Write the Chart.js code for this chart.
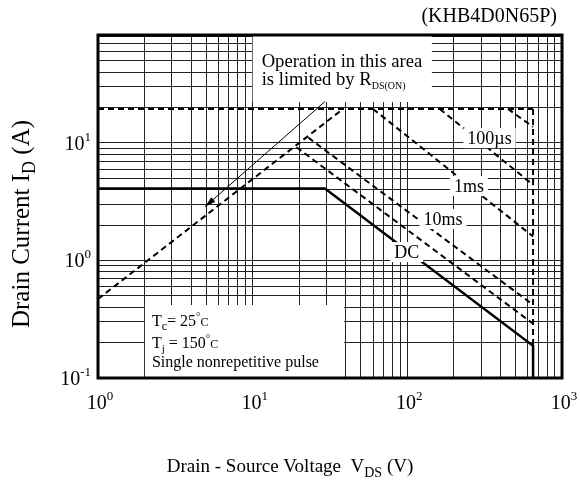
<!DOCTYPE html>
<html>
<head>
<meta charset="utf-8">
<script src="https://cdn.jsdelivr.net/npm/chart.js@4.4.0/dist/chart.umd.min.js"></script>
<style>
html, body { margin: 0; padding: 0; background: #fff; }
</style>
</head>
<body>
<canvas id="chart" width="580" height="481"></canvas>
<script>
const SERIF = '"Liberation Serif", "Times New Roman", serif';

// grid / tick values
const xGrid = [1, 2, 3, 4, 5, 6, 7, 8, 9, 10, 20, 30, 40, 50, 60, 70, 80, 90, 100, 200, 300, 400, 500, 600, 700, 800, 900, 1000];
const yGrid = [0.1, 0.2, 0.3, 0.4, 0.5, 0.6, 0.7, 0.8, 0.9, 1, 2, 3, 4, 5, 6, 7, 8, 9, 10, 20, 30, 40, 50, 60, 70, 80];
const xDecades = [1, 10, 100, 1000];
const xExponents = ['0', '1', '2', '3'];
const yDecades = [0.1, 1, 10];
const yExponents = ['-1', '0', '1'];

// curves: drain-source voltage (V) / drain current (A)
const rdsLimitV = [1, 38.4];
const rdsLimitI = [0.47, 19.5];
const pulseMaxV = [1, 650];
const pulseMaxI = [19.5, 19.5];
const bvdssV = [650, 650];
const bvdssI = [19.5, 0.1];
const us10V = [447, 650];
const us10I = [19.5, 13.7];
const us100V = [162, 650];
const us100I = [19.5, 4.4];
const ms1V = [60, 650];
const ms1I = [19.5, 1.6];
const ms10V = [22.9, 650];
const ms10I = [11.1, 0.42];
const ms100V = [19.2, 650];
const ms100I = [9.2, 0.29];
const dcV = [1, 29.3, 650, 650];
const dcI = [4.1, 4.1, 0.188, 0.1];
const arrowV = [4.92, 29.3];
const arrowI = [2.87, 22.5];

// curve labels
const curveLabels = ['100µs', '1ms', '10ms', 'DC'];
const curveLabelV = [340, 250, 170, 99];
const curveLabelI = [11.0, 4.3, 2.25, 1.18];

// note boxes (V range, I range)
const noteBoxV = [10, 144];
const noteBoxI = [22.3, 83];
const condBoxV = [2.01, 38.9];
const condBoxI = [0.1, 0.418];

const pts = (vs, is) => vs.map((v, k) => ({ x: v, y: is[k] }));

const dashed = (vs, is) => ({
	data: pts(vs, is),
	borderColor: '#000',
	borderWidth: 2,
	borderDash: [6, 4],
	pointRadius: 0,
	fill: false,
	tension: 0
});

// draws a run of text pieces with different sizes / baseline shifts
const drawRich = (ctx, parts, x, y, align) => {
	let total = 0;
	parts.forEach(p => {
		ctx.font = `${p.size}px ${SERIF}`;
		p.w = ctx.measureText(p.t).width;
		total += p.w;
	});
	let cx = align === 'center' ? x - total / 2 : align === 'right' ? x - total : x;
	ctx.textAlign = 'left';
	ctx.textBaseline = 'alphabetic';
	parts.forEach(p => {
		ctx.font = `${p.size}px ${SERIF}`;
		ctx.fillText(p.t, cx, y + (p.dy || 0));
		cx += p.w;
	});
};

const powLabel = exp => [{ t: '10', size: 20 }, { t: exp, size: 13, dy: -9 }];

const decorations = {
	id: 'decorations',
	beforeDatasetsDraw(chart) {
		const { ctx, scales: { x, y } } = chart;
		ctx.save();
		ctx.fillStyle = '#fff';
		// RDS(on) note box
		let x0 = x.getPixelForValue(noteBoxV[0]), x1 = x.getPixelForValue(noteBoxV[1]);
		let y0 = y.getPixelForValue(noteBoxI[1]), y1 = y.getPixelForValue(noteBoxI[0]);
		ctx.fillRect(x0, y0, x1 - x0, y1 - y0);
		ctx.fillStyle = '#000';
		drawRich(ctx, [{ t: 'Operation in this area', size: 18.6 }], x0 + 9, y0 + 32, 'left');
		drawRich(ctx, [{ t: 'is limited by R', size: 18.6 }, { t: 'DS(ON)', size: 10, dy: 4 }], x0 + 9, y0 + 50, 'left');
		// conditions box
		ctx.fillStyle = '#fff';
		x0 = x.getPixelForValue(condBoxV[0]); x1 = x.getPixelForValue(condBoxV[1]);
		y0 = y.getPixelForValue(condBoxI[1]); y1 = y.getPixelForValue(condBoxI[0]);
		ctx.fillRect(x0, y0, x1 - x0, y1 - y0);
		ctx.fillStyle = '#000';
		drawRich(ctx, [{ t: 'T', size: 16 }, { t: 'c', size: 12, dy: 4 }, { t: '= 25', size: 16 }, { t: '°', size: 11, dy: -6 }, { t: 'C', size: 12 }], x0 + 7, y0 + 21, 'left');
		drawRich(ctx, [{ t: 'T', size: 16 }, { t: 'j', size: 11, dy: 4 }, { t: ' = 150', size: 16 }, { t: '°', size: 11, dy: -6 }, { t: 'C', size: 12 }], x0 + 7, y0 + 43, 'left');
		drawRich(ctx, [{ t: 'Single nonrepetitive pulse', size: 16 }], x0 + 7, y0 + 62, 'left');
		ctx.restore();
	},
	afterDatasetsDraw(chart) {
		const { ctx, scales: { x, y } } = chart;
		ctx.save();
		// arrow head at the lower end of the RDS(on) line
		const ax = x.getPixelForValue(arrowV[0]), ay = y.getPixelForValue(arrowI[0]);
		const bx = x.getPixelForValue(arrowV[1]), by = y.getPixelForValue(arrowI[1]);
		const ang = Math.atan2(ay - by, ax - bx);
		ctx.fillStyle = '#000';
		ctx.beginPath();
		ctx.moveTo(ax, ay);
		ctx.lineTo(ax - 11 * Math.cos(ang) + 3 * Math.sin(ang), ay - 11 * Math.sin(ang) - 3 * Math.cos(ang));
		ctx.lineTo(ax - 11 * Math.cos(ang) - 3 * Math.sin(ang), ay - 11 * Math.sin(ang) + 3 * Math.cos(ang));
		ctx.closePath();
		ctx.fill();
		// curve labels on white
		ctx.font = `18px ${SERIF}`;
		ctx.textAlign = 'center';
		ctx.textBaseline = 'middle';
		curveLabels.forEach((lbl, k) => {
			const px = x.getPixelForValue(curveLabelV[k]);
			const py = y.getPixelForValue(curveLabelI[k]);
			const w = ctx.measureText(lbl).width;
			ctx.fillStyle = '#fff';
			ctx.fillRect(px - w / 2 - 4, py - 10, w + 8, 20);
			ctx.fillStyle = '#000';
			ctx.fillText(lbl, px, py + 1);
		});
		ctx.restore();
	},
	afterDraw(chart) {
		const { ctx, chartArea: a, scales: { x, y } } = chart;
		ctx.save();
		ctx.strokeStyle = '#000';
		ctx.lineWidth = 3;
		ctx.strokeRect(a.left, a.top, a.right - a.left, a.bottom - a.top);
		ctx.fillStyle = '#000';
		yDecades.forEach((v, k) => {
			drawRich(ctx, powLabel(yExponents[k]), a.left - 7, y.getPixelForValue(v) + 7, 'right');
		});
		xDecades.forEach((v, k) => {
			drawRich(ctx, powLabel(xExponents[k]), x.getPixelForValue(v) + 2, a.bottom + 31, 'center');
		});
		// title
		drawRich(ctx, [{ t: '(KHB4D0N65P)', size: 20 }], 557, 22, 'right');
		// x axis title
		drawRich(ctx, [{ t: 'Drain - Source Voltage  V', size: 19 }, { t: 'DS', size: 14, dy: 5 }, { t: ' (V)', size: 19 }], 290, 472, 'center');
		// y axis title
		ctx.translate(29, 224);
		ctx.rotate(-Math.PI / 2);
		drawRich(ctx, [{ t: 'Drain Current I', size: 25 }, { t: 'D', size: 18, dy: 6 }, { t: ' (A)', size: 25 }], 0, 0, 'center');
		ctx.restore();
	}
};

const gridScale = (min, max, values) => ({
	type: 'logarithmic',
	min,
	max,
	afterBuildTicks: scale => { scale.ticks = values.map(v => ({ value: v })); },
	ticks: { display: false },
	grid: { color: '#222', lineWidth: 1, drawTicks: false },
	border: { display: false }
});

const rdsArrow = {
	data: pts(arrowV, arrowI),
	borderColor: '#000',
	borderWidth: 1,
	pointRadius: 0,
	fill: false
};

const dcLine = {
	data: pts(dcV, dcI),
	borderColor: '#000',
	borderWidth: 2.5,
	pointRadius: 0,
	fill: false,
	tension: 0
};

new Chart(document.getElementById('chart'), {
	type: 'line',
	data: {
		datasets: [
			dashed(rdsLimitV, rdsLimitI),
			dashed(pulseMaxV, pulseMaxI),
			dashed(bvdssV, bvdssI),
			dashed(us10V, us10I),
			dashed(us100V, us100I),
			dashed(ms1V, ms1I),
			dashed(ms10V, ms10I),
			dashed(ms100V, ms100I),
			dcLine,
			rdsArrow
		]
	},
	options: {
		responsive: false,
		animation: false,
		layout: { padding: { left: 98, top: 35, right: 18, bottom: 103 } },
		plugins: { legend: { display: false }, tooltip: { enabled: false } },
		scales: {
			x: gridScale(1, 1000, xGrid),
			y: gridScale(0.1, 83, yGrid)
		}
	},
	plugins: [decorations]
});
</script>
</body>
</html>
